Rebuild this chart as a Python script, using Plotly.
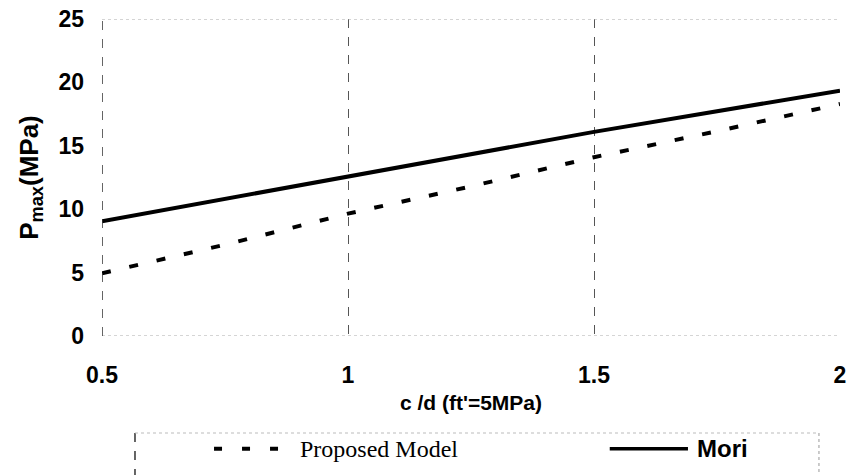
import plotly.graph_objects as go

# ---- data ----
x_proposed = [0.5, 0.75, 1.0, 1.25, 1.5, 1.75, 2.0]
y_proposed = [4.95, 7.2, 9.65, 11.8, 14.1, 16.15, 18.3]
x_mori = [0.5, 1.0, 1.5, 2.0]
y_mori = [9.05, 12.55, 16.1, 19.35]
x_ticks = [0.5, 1, 1.5, 2]
x_ticklabels = ["0.5", "1", "1.5", "2"]
y_ticks = [0, 5, 10, 15, 20, 25]
series_names = ["Proposed Model", "Mori"]

fig = go.Figure()
fig.add_trace(go.Scatter(x=x_proposed, y=y_proposed, mode="lines", name=series_names[0],
                         line=dict(color="black", width=4, dash="9px,19px"), showlegend=False))
fig.add_trace(go.Scatter(x=x_mori, y=y_mori, mode="lines", name=series_names[1],
                         line=dict(color="black", width=4), showlegend=False))

tickfont = dict(family="Liberation Sans, Arial", size=23, color="black", weight="bold")

fig.update_layout(
    width=850, height=475,
    margin=dict(l=102, r=10, t=19, b=139),
    paper_bgcolor="white", plot_bgcolor="white",
    xaxis=dict(range=[0.5, 2], tickvals=x_ticks, ticktext=x_ticklabels,
               showgrid=True, gridcolor="#555", griddash="dash", gridwidth=1,
               zeroline=False, showline=False, ticks="", automargin=False,
               ticklabeloverflow="allow",
               tickfont=tickfont, ticklabelstandoff=23,
               title=dict(text="<b>c /d (ft'=5MPa)</b>",
                          font=dict(family="Liberation Sans, Arial", size=21, color="black"),
                          standoff=8)),
    yaxis=dict(range=[0, 25], tickvals=y_ticks, showgrid=False, zeroline=False,
               showline=False, ticks="", automargin=False,
               ticklabeloverflow="allow",
               tickfont=tickfont, ticklabelstandoff=17,
               title=dict(text="<b>P<sub>max</sub>(MPa)</b>",
                          font=dict(family="Liberation Sans, Arial", size=26, color="black"),
                          standoff=12)),
    showlegend=False,
)

# faint frame lines at top (25) and bottom (0)
fig.add_shape(type="line", xref="x", yref="y", x0=0.5, x1=2, y0=25, y1=25,
              line=dict(color="#aaa", width=1, dash="dot"))
fig.add_shape(type="line", xref="x", yref="y", x0=0.5, x1=2, y0=0, y1=0,
              line=dict(color="#aaa", width=1, dash="dot"))
# left axis (dashed, darker)
fig.add_shape(type="line", xref="x", yref="y", x0=0.5, x1=0.5, y0=0, y1=25,
              line=dict(color="#333", width=1.5, dash="dash"))

# ---- custom legend box ----
ly = -0.356
fig.add_shape(type="line", xref="paper", yref="paper", x0=0.0447, x1=0.0447, y0=-0.306, y1=-0.46,
              line=dict(color="#333", width=1.5, dash="dash"))
fig.add_shape(type="line", xref="paper", yref="paper", x0=0.0447, x1=0.9715, y0=-0.306, y1=-0.306,
              line=dict(color="#bbb", width=1, dash="dot"))
fig.add_shape(type="line", xref="paper", yref="paper", x0=0.9715, x1=0.9715, y0=-0.306, y1=-0.46,
              line=dict(color="#999", width=1, dash="dot"))
fig.add_shape(type="line", xref="paper", yref="paper", x0=0.1518, x1=0.2412, y0=ly, y1=ly,
              line=dict(color="black", width=4, dash="8px,20px"))
fig.add_shape(type="line", xref="paper", yref="paper", x0=0.688, x1=0.794, y0=ly, y1=ly,
              line=dict(color="black", width=3.5))
fig.add_annotation(xref="paper", yref="paper", x=0.2656, y=ly, xanchor="left", yanchor="middle",
                   text=series_names[0], showarrow=False,
                   font=dict(family="Liberation Serif, Times New Roman", size=24, color="black"))
fig.add_annotation(xref="paper", yref="paper", x=0.8035, y=ly, xanchor="left", yanchor="middle",
                   text=series_names[1], showarrow=False,
                   font=dict(family="Liberation Sans Narrow, Arial Narrow, Liberation Sans", size=24,
                             color="black", weight="bold"))

# remove the default 8px page margin so the figure fills the window exactly
fig.write_html("out.html", config={"displayModeBar": False},
               post_script="document.body.style.margin='0';document.body.style.overflow='hidden';")
